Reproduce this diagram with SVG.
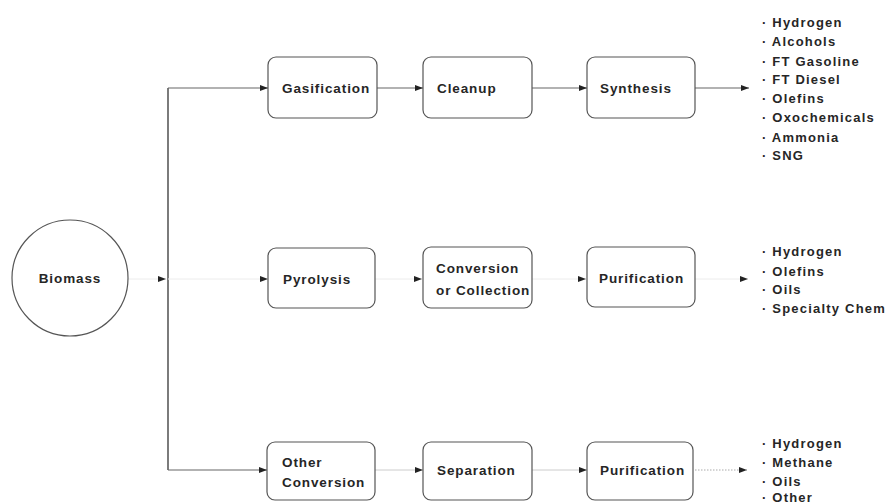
<svg xmlns="http://www.w3.org/2000/svg" width="888" height="504" viewBox="0 0 888 504">
  <defs>
    <marker id="arrow" viewBox="0 0 8 6" refX="8" refY="3" markerWidth="8" markerHeight="6" markerUnits="userSpaceOnUse" orient="auto">
      <path d="M0,0 L8,3 L0,6 Z" fill="#222"/>
    </marker>
    <style>
      .box { fill: #fff; stroke: #555; stroke-width: 1.2; }
      .node-text { font-family: "Liberation Sans", Arial, sans-serif; font-size: 13.5px; font-weight: bold; fill: #262626; letter-spacing: 0.9px; }
      .list { font-family: "Liberation Sans", Arial, sans-serif; font-size: 13px; font-weight: bold; fill: #262626; letter-spacing: 1.2px; }
      .line { fill: none; stroke: #666; stroke-width: 1.1; }
      .faint { fill: none; stroke: #ececec; stroke-width: 1; }
      .dotted { fill: none; stroke: #aaa; stroke-width: 1; stroke-dasharray: 1.5 1.5; }
    </style>
  </defs>
  <rect width="888" height="504" fill="#fff"/>

  <!-- connectors -->
  <g id="connectors">
    <path class="line" d="M168,470 L168,88" style="stroke:#444;stroke-width:1.4"/>
    <path class="line" d="M168,88 L268,88" marker-end="url(#arrow)"/>
    <path class="line" d="M377,88 L423,88" marker-end="url(#arrow)"/>
    <path class="line" d="M532,88 L587,88" marker-end="url(#arrow)"/>
    <path class="line" d="M695,88 L749,88" marker-end="url(#arrow)"/>

    <path class="faint" d="M128,279 L166,279" marker-end="url(#arrow)"/>
    <path class="faint" d="M168,279 L268,279" marker-end="url(#arrow)"/>
    <path class="faint" d="M375,279 L422,279" marker-end="url(#arrow)"/>
    <path class="faint" d="M532,279 L586,279" marker-end="url(#arrow)"/>
    <path class="faint" d="M695,279 L748,279" marker-end="url(#arrow)"/>

    <path class="line" d="M168,470 L267,470" marker-end="url(#arrow)"/>
    <path class="faint" d="M375,470 L423,470" style="stroke:#ccc" marker-end="url(#arrow)"/>
    <path class="faint" d="M532,470 L587,470" style="stroke:#ccc" marker-end="url(#arrow)"/>
    <path class="dotted" d="M695,470 L747,470" marker-end="url(#arrow)"/>
  </g>

  <!-- source -->
  <g id="biomass">
    <circle cx="70" cy="278" r="58" fill="#fff" stroke="#555" stroke-width="1.2"/>
    <text class="node-text" x="70" y="283" text-anchor="middle">Biomass</text>
  </g>

  <!-- gasification route -->
  <g id="gasification">
    <rect class="box" x="268" y="57" width="109" height="61" rx="8"/>
    <text class="node-text" x="282" y="93">Gasification</text>
  </g>
  <g id="cleanup">
    <rect class="box" x="423" y="57" width="109" height="61" rx="8"/>
    <text class="node-text" x="437" y="93">Cleanup</text>
  </g>
  <g id="synthesis">
    <rect class="box" x="587" y="57" width="108" height="61" rx="8"/>
    <text class="node-text" x="600" y="93">Synthesis</text>
  </g>
  <g id="gasification-products">
    <text class="list" x="762" y="27">· Hydrogen</text>
    <text class="list" x="762" y="46">· Alcohols</text>
    <text class="list" x="762" y="66">· FT Gasoline</text>
    <text class="list" x="762" y="84">· FT Diesel</text>
    <text class="list" x="762" y="103">· Olefins</text>
    <text class="list" x="762" y="122">· Oxochemicals</text>
    <text class="list" x="762" y="142">· Ammonia</text>
    <text class="list" x="762" y="160">· SNG</text>
  </g>

  <!-- pyrolysis route -->
  <g id="pyrolysis">
    <rect class="box" x="268" y="248" width="107" height="60" rx="8"/>
    <text class="node-text" x="283" y="284">Pyrolysis</text>
  </g>
  <g id="conversion-collection">
    <rect class="box" x="423" y="247" width="109" height="61" rx="8"/>
    <text class="node-text" x="436" y="273">Conversion</text>
    <text class="node-text" x="436" y="295">or Collection</text>
  </g>
  <g id="purification-1">
    <rect class="box" x="587" y="247" width="108" height="60" rx="8"/>
    <text class="node-text" x="599" y="283">Purification</text>
  </g>
  <g id="pyrolysis-products">
    <text class="list" x="762" y="256">· Hydrogen</text>
    <text class="list" x="762" y="276">· Olefins</text>
    <text class="list" x="762" y="294">· Oils</text>
    <text class="list" x="762" y="313">· Specialty Chem</text>
  </g>

  <!-- other conversion route -->
  <g id="other-conversion">
    <rect class="box" x="267" y="442" width="108" height="58" rx="8"/>
    <text class="node-text" x="282" y="467">Other</text>
    <text class="node-text" x="282" y="487">Conversion</text>
  </g>
  <g id="separation">
    <rect class="box" x="423" y="442" width="109" height="58" rx="8"/>
    <text class="node-text" x="437" y="475">Separation</text>
  </g>
  <g id="purification-2">
    <rect class="box" x="587" y="442" width="106" height="58" rx="8"/>
    <text class="node-text" x="600" y="475">Purification</text>
  </g>
  <g id="other-products">
    <text class="list" x="762" y="448">· Hydrogen</text>
    <text class="list" x="762" y="467">· Methane</text>
    <text class="list" x="762" y="486">· Oils</text>
    <text class="list" x="762" y="502">· Other</text>
  </g>
</svg>
